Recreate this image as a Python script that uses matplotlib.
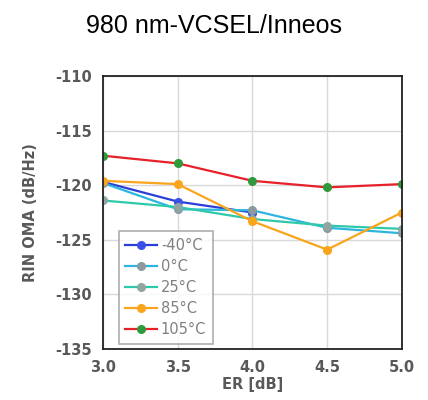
import matplotlib.pyplot as plt

plt.rcParams["axes.unicode_minus"] = False

er = [3.0, 3.5, 4.0, 4.5, 5.0]

rin_m40 = [-119.7, -121.5, -122.5]
rin_0 = [-119.8, -122.2, -122.3, -123.9, -124.4]
rin_25 = [-121.4, -122.0, -123.1, -123.7, -124.0]
rin_85 = [-119.6, -119.9, -123.3, -125.9, -122.5]
rin_105 = [-117.3, -118.0, -119.6, -120.2, -119.9]

labels = ["-40°C", "0°C", "25°C", "85°C", "105°C"]

fig = plt.figure(figsize=(4.28, 4.00), dpi=100)
ax = fig.add_axes([0.2407, 0.1275, 0.6983, 0.6825])

# line colour, marker face colour
styles = [
    ("#2a3fd8", "#3b4fe8"),
    ("#2bb5e0", "#8a9aa0"),
    ("#2ec9a8", "#8fa7a0"),
    ("#f9a51c", "#f9a51c"),
    ("#e8202a", "#2f9a3c"),
]
series = [rin_m40, rin_0, rin_25, rin_85, rin_105]

for vals, lab, (lc, mc) in zip(series, labels, styles):
    ax.plot(er[:len(vals)], vals, color=lc, lw=1.6, marker="o", ms=5.5,
            mfc=mc, mec=mc, label=lab)

ax.set_xlim(3.0, 5.0)
ax.set_ylim(-135, -110)
ax.set_xticks(er)
ax.set_yticks([-135, -130, -125, -120, -115, -110])
ax.grid(color="#d9d9d9", lw=1)
ax.set_axisbelow(True)
for s in ax.spines.values():
    s.set_color("#222222")
    s.set_linewidth(1.3)
ax.tick_params(length=0, pad=8, labelsize=10.5, labelcolor="#595959")
for t in ax.get_xticklabels() + ax.get_yticklabels():
    t.set_fontweight("bold")

ax.set_xlabel("ER [dB]", fontsize=10.5, fontweight="bold", color="#595959", labelpad=1)
ax.set_ylabel("RIN OMA (dB/Hz)", fontsize=10.5, fontweight="bold", color="#595959", labelpad=12)

leg = ax.legend(loc="lower left", bbox_to_anchor=(0.035, 0.0), fontsize=10.5,
                frameon=True, fancybox=False, handlelength=2.2, labelspacing=0.42,
                borderpad=0.45, handletextpad=0.25, borderaxespad=0.35)
leg.get_frame().set_edgecolor("#999999")
leg.get_frame().set_linewidth(1.2)
for t in leg.get_texts():
    t.set_color("#808080")

fig.text(0.5, 0.935, "980 nm-VCSEL/Inneos", ha="center", va="center",
         fontsize=18, family="Liberation Sans")

fig.savefig("out.png", dpi=100)
